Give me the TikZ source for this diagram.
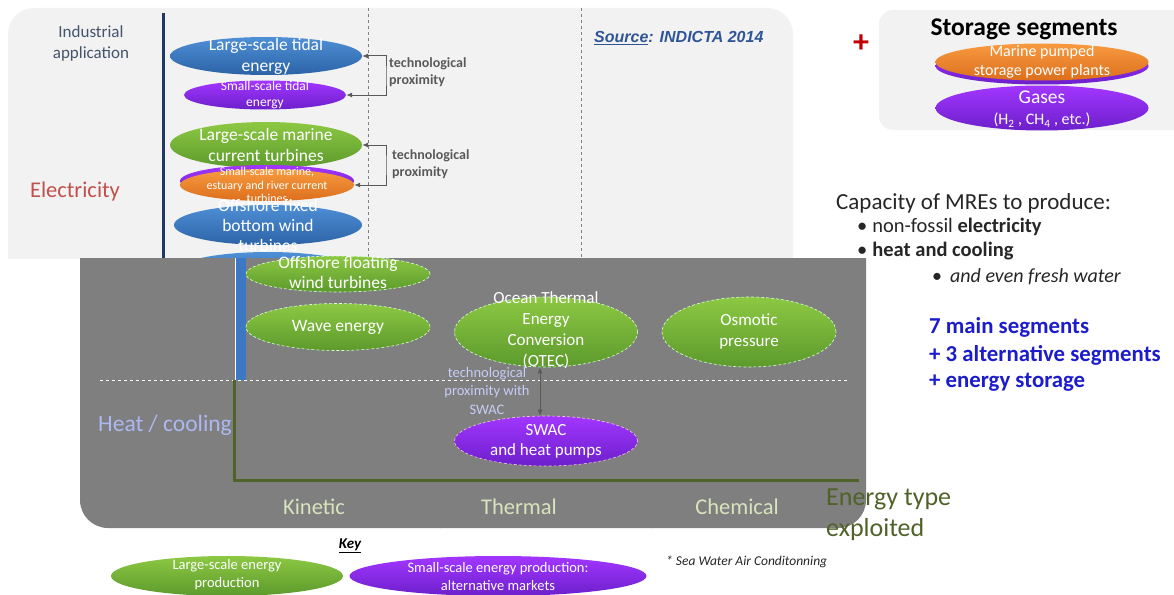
\documentclass[tikz,border=0pt]{standalone}
\usepackage{fontspec}
\setmainfont{Carlito}
\newfontfamily\arialfont{Liberation Sans}
\usetikzlibrary{shapes.geometric,arrows.meta}

\definecolor{panellight}{HTML}{F2F2F2}
\definecolor{panelgray}{HTML}{7F7F7F}
\definecolor{navy}{HTML}{1F3864}
\definecolor{bluetop}{HTML}{4F8FD6}
\definecolor{bluebot}{HTML}{2C63A6}
\definecolor{greentop}{HTML}{8DC843}
\definecolor{greenbot}{HTML}{5C9A2C}
\definecolor{purpletop}{HTML}{A236FF}
\definecolor{purplebot}{HTML}{6C1FCB}
\definecolor{orangetop}{HTML}{F89A40}
\definecolor{orangebot}{HTML}{DC6F1C}
\definecolor{proxgray}{HTML}{595959}
\definecolor{slate}{HTML}{44546A}
\definecolor{elecred}{HTML}{C0504D}
\definecolor{lavender}{HTML}{ADB8F2}
\definecolor{paleolive}{HTML}{D7E4BD}
\definecolor{olive}{HTML}{4F6228}
\definecolor{srcblue}{HTML}{2F5597}
\definecolor{darktext}{HTML}{262626}
\definecolor{segblue}{HTML}{1C1CCC}
\definecolor{plusred}{HTML}{C00000}
\definecolor{blueband}{HTML}{3C78C4}

\newcommand\setfs[2]{\fontsize{#1}{#2}\selectfont}

\begin{document}
\begin{tikzpicture}[x=1pt,y=-1pt,
  ell/.style={ellipse, inner sep=0pt, draw=none},
  blueE/.style={ell, top color=bluetop, bottom color=bluebot},
  greenE/.style={ell, top color=greentop, bottom color=greenbot},
  greenEw/.style={greenE, draw=white!85!green, densely dashed, line width=0.6pt},
  purpleE/.style={ell, top color=purpletop, bottom color=purplebot},
  orangeE/.style={ell, top color=orangetop, bottom color=orangebot},
  etext/.style={text=white, align=center, inner sep=0pt},
  lbl/.style={inner sep=0pt, align=center},
  prox/.style={draw=proxgray, line width=1pt,
    {Latex[length=6pt,width=5pt]}-{Latex[length=6pt,width=5pt]}},
  vguide/.style={draw=gray, dashed, line width=0.7pt},
]
\useasboundingbox (0,0) rectangle (1174,594);
\fill[white] (0,0) rectangle (1174,594);

% ---------- upper light panel (electricity) ----------
\begin{scope}
  \clip (0,0) rectangle (1174,258);
  \fill[panellight, rounded corners=26pt] (8,8) rectangle (793,320);
\end{scope}
\draw[vguide] (368,8) -- (368,258);
\draw[vguide] (581,8) -- (581,258);
\draw[navy, line width=3pt] (163,13) -- (163,258);

\node[lbl, text=slate, font=\setfs{17}{21}] (indapp) at (91,43) {Industrial\\application};
\node[lbl, text=elecred, font=\setfs{22.5}{26}] (elec) at (75,191) {Electricity};
\node[lbl, anchor=west, text=srcblue, font=\arialfont\bfseries\itshape\setfs{16}{19}] (src) at (594,38)
  {\underline{Source}: INDICTA 2014};

\node[blueE, minimum width=192pt, minimum height=38pt] (tidalL) at (266,56) {};
\node[etext, font=\setfs{17.5}{21}] (tidalL-t) at (tidalL) {Large-scale tidal\\energy};
\node[purpleE, minimum width=162pt, minimum height=29pt] (tidalS) at (265,95) {};
\node[etext, font=\setfs{13.5}{16}] (tidalS-t) at (tidalS) {Small-scale tidal\\energy};

\node[greenE, minimum width=192pt, minimum height=46pt] (curL) at (266,145) {};
\node[etext, font=\setfs{17.5}{20.5}] (curL-t) at (curL) {Large-scale marine\\current turbines};
\node[purpleE, minimum width=174pt, minimum height=32pt] (curSb) at (267,181) {};
\node[orangeE, minimum width=174pt, minimum height=32pt] (curS) at (267,185) {};
\node[etext, font=\setfs{12}{13.5}] (curS-t) at (curS) {Small-scale marine,\\estuary and river current\\turbines};

\node[blueE, minimum width=188pt, minimum height=40pt] (windF) at (268,225) {};
\node[etext, font=\setfs{17.5}{20}] (windF-t) at (windF) {Offshore fixed\\bottom  wind\\turbines};
\node[blueE, minimum width=188pt, minimum height=40pt] (windFl) at (268,272) {};

\coordinate (brA) at (386,76);
\draw[prox] (tidalL.east) -| (brA) |- (tidalS.east);
\node[lbl, anchor=west, align=left, text=proxgray, font=\bfseries\setfs{14}{17}] (proxA) at (389,72)
  {technological\\proximity};
\coordinate (brB) at (386,165);
\draw[prox] (curL.east) -| (brB) |- (curS.east);
\node[lbl, anchor=west, align=left, text=proxgray, font=\bfseries\setfs{14}{17}] (proxB) at (392,164)
  {technological\\proximity};

% ---------- lower dark panel ----------
\begin{scope}
  \clip (0,258) rectangle (1174,594);
  \fill[panelgray, rounded corners=28pt] (80,200) rectangle (866,528);
\end{scope}
\draw[gray!55!panelgray, dashed, line width=0.6pt] (440,258) -- (440,528);
\draw[gray!55!panelgray, dashed, line width=0.6pt] (652,258) -- (652,528);
\fill[blueband] (236,258) rectangle (246,380);
\draw[white, line width=1pt] (235,258) -- (235,380);
\draw[white, dashed, line width=1pt] (100,380) -- (848,380);
\coordinate (axO) at (234,380);
\coordinate (axE) at (859,480);
\draw[olive, line width=3pt] (axO) |- (axE);

\node[lbl, text=lavender, font=\setfs{23.5}{26}] (heat) at (165,425) {Heat / cooling};
\node[lbl, text=paleolive, font=\setfs{22.5}{25}] (kin) at (314,507) {Kinetic};
\node[lbl, text=paleolive, font=\setfs{22.5}{25}] (therm) at (519,507) {Thermal};
\node[lbl, text=paleolive, font=\setfs{22.5}{25}] (chem) at (737,507) {Chemical};

\node[greenEw, minimum width=184pt, minimum height=36pt] (floatW) at (338,274) {};
\node[etext, font=\setfs{17.5}{20}] (floatW-t) at (338,272) {Offshore floating\\wind turbines};
\node[greenEw, minimum width=184pt, minimum height=47pt] (wave) at (338,327) {};
\node[etext, font=\setfs{17.5}{20}] (wave-t) at (wave) {Wave energy};
\node[greenEw, minimum width=183pt, minimum height=70pt] (otec) at (546,332) {};
\node[etext, font=\setfs{17}{21}] (otec-t) at (546,330) {Ocean Thermal\\Energy\\Conversion\\(OTEC)};
\node[greenEw, minimum width=174pt, minimum height=70pt] (osm) at (749,332) {};
\node[etext, font=\setfs{17}{21}] (osm-t) at (749,331) {Osmotic\\pressure};
\node[purpleE, draw=white!80!purple, densely dashed, line width=0.6pt,
      minimum width=183pt, minimum height=50pt] (swac) at (546,441) {};
\node[etext, font=\setfs{17}{20}] (swac-t) at (swac) {SWAC\\and heat pumps};

\draw[prox] ([xshift=-6pt]otec.south) -- ([xshift=-6pt]swac.north);
\node[lbl, text=lavender!70!white, font=\setfs{14.5}{18.5}] (proxC) at (487,391)
  {technological\\proximity with\\SWAC};

% ---------- right column ----------
\begin{scope}
  \clip (0,0) rectangle (1174,594);
  \fill[panellight, rounded corners=14pt] (879,10) rectangle (1190,130);
\end{scope}
\node[lbl, text=plusred, font=\bfseries\setfs{32}{32}] (plus) at (861,44) {+};
\node[lbl, font=\bfseries\setfs{25.5}{28}] (storeT) at (1024,29) {Storage segments};
\node[purpleE, minimum width=213pt, minimum height=37pt] (mpspb) at (1042,66) {};
\node[orangeE, minimum width=213pt, minimum height=37pt] (mpsp) at (1042,62) {};
\node[etext, font=\setfs{16}{19}] (mpsp-t) at (1042,62) {Marine pumped\\storage power plants};
\node[purpleE, minimum width=213pt, minimum height=45pt] (gases) at (1042,108) {};
\node[etext, font=\setfs{19.5}{22}] (gases-t) at (1042,97) {Gases};
\node[etext, font=\setfs{16}{18}] (gases-s) at (1042,120) {(H\textsubscript{2} , CH\textsubscript{4} , etc.)};

\node[lbl, anchor=west, text=darktext, font=\setfs{23}{26}] (cap) at (836,203) {Capacity of MREs to produce:};
\node[lbl, anchor=west, text=darktext, font=\setfs{20.5}{23}] (b1) at (857,227)
  {\textbullet\hspace{5pt}non-fossil \textbf{electricity}};
\node[lbl, anchor=west, text=darktext, font=\setfs{20.5}{23}] (b2) at (857,251)
  {\textbullet\hspace{5pt}\textbf{heat and cooling}};
\node[lbl, anchor=west, text=darktext, font=\setfs{20}{23}] (b3) at (932,277)
  {\textbullet\hspace{8pt}\textit{and even fresh water}};
\node[lbl, anchor=west, text=segblue, font=\bfseries\setfs{22.8}{26}] (s1) at (929,327) {7 main segments};
\node[lbl, anchor=west, text=segblue, font=\bfseries\setfs{22.8}{26}] (s2) at (929,355) {+ 3 alternative  segments};
\node[lbl, anchor=west, text=segblue, font=\bfseries\setfs{22.8}{26}] (s3) at (929,382) {+ energy storage};

\node[lbl, anchor=west, align=left, text=olive, font=\setfs{26}{31}] (etype) at (826,515) {Energy type\\exploited};

% ---------- key ----------
\node[lbl, font=\bfseries\itshape\setfs{15}{17}] (key) at (350,546) {\underline{Key}};
\node[greenE, minimum width=232pt, minimum height=40pt] (keyL) at (227,576) {};
\node[etext, font=\setfs{14.5}{18}] (keyL-t) at (227,575) {Large-scale energy\\production};
\node[purpleE, minimum width=297pt, minimum height=40pt] (keyS) at (498,576) {};
\node[etext, font=\setfs{14.5}{18}] (keyS-t) at (498,577) {Small-scale energy production:\\alternative markets};
\node[lbl, anchor=west, text=darktext, font=\itshape\setfs{13.5}{15}] (foot) at (666,562) {* Sea Water Air Conditonning};
\end{tikzpicture}
\end{document}
